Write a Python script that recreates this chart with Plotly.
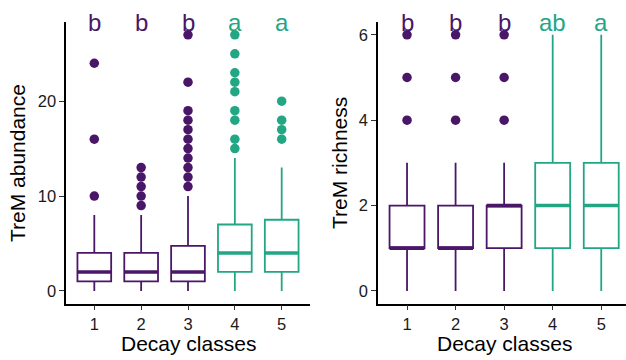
import plotly.graph_objects as go

# ---------------- data ----------------
classes = [1, 2, 3, 4, 5]
class_group = ["b", "b", "b", "a", "a"]          # colour group per class
group_colors = {"b": "#4A1668", "a": "#22A684"}

# TreM abundance
ab_low = [0, 0, 0, 0, 0]
ab_q1 = [1, 1, 1, 2, 2]
ab_med = [2, 2, 2, 4, 4]
ab_q3 = [4, 4, 4.75, 7, 7.5]
ab_high = [8, 8, 10, 14, 13]
ab_out = [
    [10, 16, 24],
    [9, 10, 11, 12, 13],
    [11, 12, 13, 14, 15, 16, 17, 18, 19, 22, 27],
    [15, 16, 18, 19, 21, 22, 23, 25, 27],
    [16, 17, 18, 20],
]
ab_letters = ["b", "b", "b", "a", "a"]

# TreM richness
ri_low = [0, 0, 0, 0, 0]
ri_q1 = [1, 1, 1, 1, 1]
ri_med = [1, 1, 2, 2, 2]
ri_q3 = [2, 2, 2, 3, 3]
ri_high = [3, 3, 3, 6, 6]
ri_out = [
    [4, 5, 6],
    [4, 5, 6],
    [4, 5, 6],
    [],
    [],
]
ri_letters = ["b", "b", "b", "ab", "a"]

x_title = "Decay classes"
y_titles = ["TreM abundance", "TreM richness"]

# ---------------- figure ----------------
W, H = 626, 360
BOX_W = 0.72
LW = 1.8
MED_LW = 3.6
FONT = "Liberation Sans, Arial, sans-serif"
TITLE_SIZE = 21
TICK_SIZE = 16.5

fig = go.Figure()
shapes = []
annotations = []

panels = [
    ("x", "y", ab_low, ab_q1, ab_med, ab_q3, ab_high, ab_out, ab_letters),
    ("x2", "y2", ri_low, ri_q1, ri_med, ri_q3, ri_high, ri_out, ri_letters),
]

for xa, ya, lo, q1, med, q3, hi, outs, letters in panels:
    for i, c in enumerate(classes):
        col = group_colors[class_group[i]]
        fig.add_trace(go.Box(
            x=[c], q1=[q1[i]], median=[med[i]], q3=[q3[i]],
            lowerfence=[lo[i]], upperfence=[hi[i]],
            width=BOX_W, whiskerwidth=0,
            line=dict(color=col, width=LW), fillcolor="rgba(255,255,255,0)",
            boxpoints=False, hoverinfo="skip",
            xaxis=xa, yaxis=ya, showlegend=False,
        ))
        if outs[i]:
            fig.add_trace(go.Scatter(
                x=[c] * len(outs[i]), y=outs[i], mode="markers",
                marker=dict(color=col, size=9.5, line=dict(width=0)),
                xaxis=xa, yaxis=ya, showlegend=False, hoverinfo="skip",
            ))
        shapes.append(dict(
            type="line", xref=xa, yref=ya,
            x0=c - BOX_W / 2, x1=c + BOX_W / 2, y0=med[i], y1=med[i],
            line=dict(color=col, width=MED_LW),
        ))
        annotations.append(dict(
            x=c, y=1.0, xref=xa, yref=ya + " domain",
            text=letters[i], showarrow=False,
            xanchor="center", yanchor="middle",
            font=dict(family=FONT, size=24, color=col),
        ))

left_dom = [66.2 / W, 309.8 / W]
right_dom = [377.9 / W, 1.0]
ydom = [1 - 303.7 / H, 1 - 22.0 / H]

annotations += [
    dict(x=188 / W, y=1 - 343 / H, xref="paper", yref="paper", text=x_title,
         showarrow=False, xanchor="center", yanchor="middle",
         font=dict(family=FONT, size=TITLE_SIZE, color="black")),
    dict(x=504 / W, y=1 - 343 / H, xref="paper", yref="paper", text=x_title,
         showarrow=False, xanchor="center", yanchor="middle",
         font=dict(family=FONT, size=TITLE_SIZE, color="black")),
    dict(x=18 / W, y=1 - 163 / H, xref="paper", yref="paper", text=y_titles[0],
         showarrow=False, xanchor="center", yanchor="middle", textangle=-90,
         font=dict(family=FONT, size=TITLE_SIZE, color="black")),
    dict(x=340 / W, y=1 - 163 / H, xref="paper", yref="paper", text=y_titles[1],
         showarrow=False, xanchor="center", yanchor="middle", textangle=-90,
         font=dict(family=FONT, size=TITLE_SIZE, color="black")),
]

axis_common = dict(
    showline=True, linecolor="black", linewidth=1.5,
    ticks="outside", ticklen=5, tickwidth=1.1, tickcolor="#333333",
    showgrid=False, zeroline=False,
    tickfont=dict(family=FONT, size=TICK_SIZE, color="#1a1a1a"),
)

fig.update_layout(
    width=W, height=H,
    margin=dict(l=0, r=0, t=0, b=0),
    paper_bgcolor="white", plot_bgcolor="white",
    boxmode="overlay",
    showlegend=False,
    shapes=shapes, annotations=annotations,
    xaxis=dict(domain=left_dom, range=[0.4, 5.6], tickvals=classes,
               ticktext=[str(c) for c in classes], anchor="y", **axis_common),
    yaxis=dict(domain=ydom, range=[-1.35, 28.35], tickvals=[0, 10, 20],
               anchor="x", **axis_common),
    xaxis2=dict(domain=right_dom, range=[0.4, 5.51], tickvals=classes,
                ticktext=[str(c) for c in classes], anchor="y2", **axis_common),
    yaxis2=dict(domain=ydom, range=[-0.3, 6.3], tickvals=[0, 2, 4, 6],
                anchor="x2", **axis_common),
)

fig.write_html("out.html")
